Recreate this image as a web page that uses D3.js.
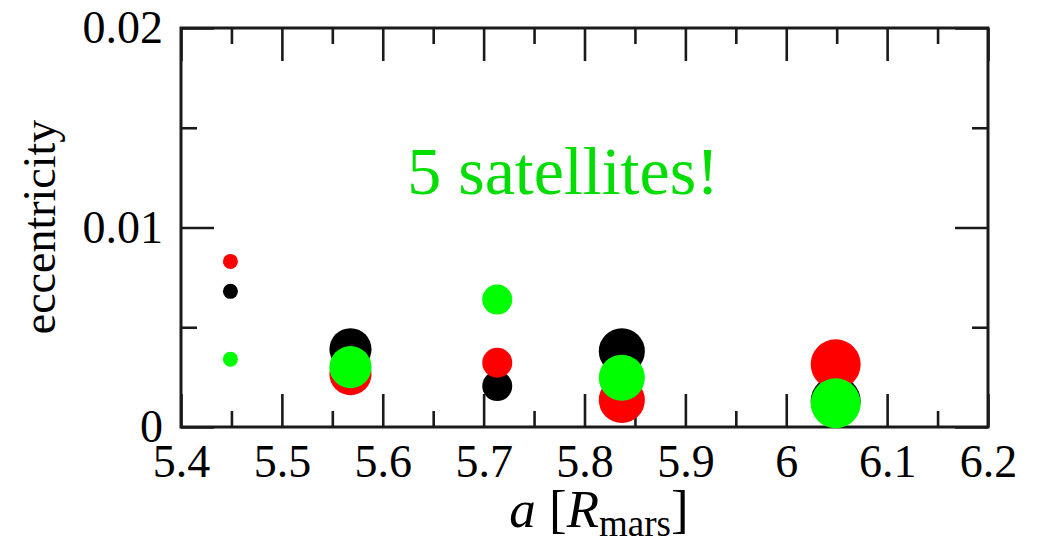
<!DOCTYPE html>
<html>
<head>
<meta charset="utf-8">
<script src="https://cdn.jsdelivr.net/npm/d3@7"></script>
<style>
  html, body { margin: 0; padding: 0; background: #fff; }
  svg { display: block; }
</style>
</head>
<body>
<svg id="chart" width="1042" height="546"></svg>
<script>
// Semi-major axis of each satellite, in Mars radii
const semiMajor = [5.449, 5.568, 5.7135, 5.837, 6.049];
// Relative mass of each satellite (sets the marker area)
const relMass = [0.09, 0.71, 0.36, 0.85, 1.0];
// Eccentricity of each satellite in three runs (drawn black, red, green)
const eccBlack = [0.0068, 0.0039, 0.00205, 0.0038, 0.0013];
const eccRed   = [0.0083, 0.00265, 0.00322, 0.00135, 0.00314];
const eccGreen = [0.0034, 0.0030, 0.00639, 0.00247, 0.00119];
// Axis ticks
const xMajor = [5.4, 5.5, 5.6, 5.7, 5.8, 5.9, 6.0, 6.1, 6.2];
const xMinor = [5.45, 5.55, 5.65, 5.75, 5.85, 5.95, 6.05, 6.15];
const yMajor = [0, 0.01, 0.02];
const yMinor = [0.005, 0.015];
const xTickLabels = ["5.4", "5.5", "5.6", "5.7", "5.8", "5.9", "6", "6.1", "6.2"];
const yTickLabels = ["0", "0.01", "0.02"];

const runs = [
  { name: "black", color: "#000000", ecc: eccBlack },
  { name: "red",   color: "#ff0000", ecc: eccRed },
  { name: "green", color: "#00ff00", ecc: eccGreen }
];

const SERIF = "'Liberation Serif'";

const svg = d3.select("#chart");
const plotLeft = 181, plotRight = 988, plotTop = 28, plotBottom = 427;

const x = d3.scaleLinear().domain([5.4, 6.2]).range([plotLeft, plotRight]);
const y = d3.scaleLinear().domain([0, 0.02]).range([plotBottom, plotTop]);
const r = d3.scaleSqrt().domain([0, 1]).range([0, 25]);

const MAJOR = 33, MINOR = 16;
const axisColor = "#1a1a1a";

function styleAxis(g) {
  g.select(".domain").remove();
  g.selectAll(".tick line").attr("stroke", axisColor).attr("stroke-width", 2.6);
  g.selectAll(".tick text")
    .style("font-family", SERIF)
    .style("font-size", "46px")
    .attr("fill", "#000");
}

// Bottom axis (labelled) + minor ticks
svg.append("g").attr("transform", `translate(0,${plotBottom})`)
  .call(d3.axisBottom(x).tickValues(xMajor).tickSize(-MAJOR).tickPadding(17)
    .tickFormat((d, i) => xTickLabels[i]))
  .call(styleAxis);
svg.append("g").attr("transform", `translate(0,${plotBottom})`)
  .call(d3.axisBottom(x).tickValues(xMinor).tickSize(-MINOR).tickFormat(""))
  .call(styleAxis);

// Top axis: ticks only
svg.append("g").attr("transform", `translate(0,${plotTop})`)
  .call(d3.axisTop(x).tickValues(xMajor).tickSize(-MAJOR).tickFormat(""))
  .call(styleAxis);
svg.append("g").attr("transform", `translate(0,${plotTop})`)
  .call(d3.axisTop(x).tickValues(xMinor).tickSize(-MINOR).tickFormat(""))
  .call(styleAxis);

// Left axis (labelled) + minor ticks
svg.append("g").attr("transform", `translate(${plotLeft},0)`)
  .call(d3.axisLeft(y).tickValues(yMajor).tickSize(-MAJOR).tickPadding(18)
    .tickFormat((d, i) => yTickLabels[i]))
  .call(styleAxis);
svg.append("g").attr("transform", `translate(${plotLeft},0)`)
  .call(d3.axisLeft(y).tickValues(yMinor).tickSize(-MINOR).tickFormat(""))
  .call(styleAxis);

// Right axis: ticks only
svg.append("g").attr("transform", `translate(${plotRight},0)`)
  .call(d3.axisRight(y).tickValues(yMajor).tickSize(-MAJOR).tickFormat(""))
  .call(styleAxis);
svg.append("g").attr("transform", `translate(${plotRight},0)`)
  .call(d3.axisRight(y).tickValues(yMinor).tickSize(-MINOR).tickFormat(""))
  .call(styleAxis);

// Plot frame
svg.append("rect")
  .attr("x", plotLeft).attr("y", plotTop)
  .attr("width", plotRight - plotLeft).attr("height", plotBottom - plotTop)
  .attr("fill", "none").attr("stroke", axisColor).attr("stroke-width", 3);

// Satellites: one circle per run, black first, green on top
const dots = svg.append("g");
runs.forEach(run => {
  dots.append("g").attr("class", "run-" + run.name)
    .selectAll("circle")
    .data(semiMajor.map((a, i) => ({ a, e: run.ecc[i], m: relMass[i] })))
    .join("circle")
    .attr("cx", d => x(d.a))
    .attr("cy", d => y(d.e))
    .attr("r", d => r(d.m))
    .attr("fill", run.color);
});

// Annotation
svg.append("text")
  .attr("x", 563).attr("y", 194)
  .attr("text-anchor", "middle")
  .style("font-family", SERIF)
  .style("font-size", "68px")
  .style("fill", "#00dd00")
  .text("5 satellites!");

// Y axis title
svg.append("text")
  .attr("transform", "translate(55,227) rotate(-90)")
  .attr("text-anchor", "middle")
  .style("font-family", SERIF)
  .style("font-size", "46px")
  .text("eccentricity");

// X axis title: a [R_mars]
const xt = svg.append("text")
  .attr("x", 599).attr("y", 527)
  .attr("text-anchor", "middle")
  .style("font-family", SERIF)
  .style("font-size", "53px");
xt.append("tspan").style("font-style", "italic").text("a");
xt.append("tspan").text(" [");
xt.append("tspan").style("font-style", "italic").text("R");
xt.append("tspan").attr("dy", 9).style("font-size", "37px").text("mars");
xt.append("tspan").attr("dy", -9).text("]");
</script>
</body>
</html>
